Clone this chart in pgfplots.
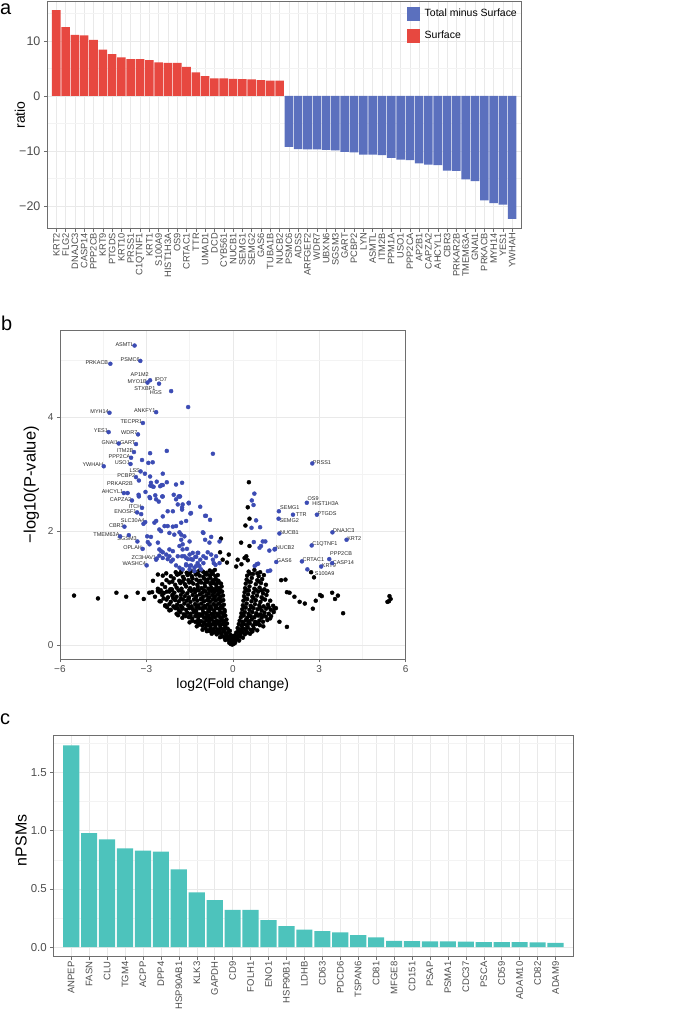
\documentclass[border=0pt]{standalone}
\usepackage{fontspec}
\setmainfont{Liberation Sans}
\usepackage{pgfplots}
\pgfplotsset{compat=1.18}

\definecolor{redC}{RGB}{231,72,64}
\definecolor{blueC}{RGB}{91,112,190}
\definecolor{tealC}{RGB}{77,195,188}
\definecolor{dotblue}{RGB}{60,76,180}
\definecolor{gridC}{RGB}{233,233,233}
\definecolor{gridm}{RGB}{243,243,243}
\definecolor{frameC}{RGB}{110,110,110}
\definecolor{tickC}{RGB}{77,77,77}

\newcommand{\fs}[1]{\fontsize{#1}{#1}\selectfont}

\pgfplotsset{
  ggbase/.style={
    scale only axis, anchor=south west,
    /pgf/number format/assume math mode=true,
    grid=both,
    major grid style={draw=gridC, line width=0.5pt},
    minor grid style={draw=gridm, line width=0.35pt},
    axis line style={draw=frameC, line width=0.6pt},
    tick pos=left, tick align=outside,
    major tick length=3pt, minor tick length=0pt,
    every tick/.style={draw=frameC, line width=0.5pt},
    tick label style={text=tickC},
  },
}
\tikzset{
  lblL/.style={anchor=east, font=\fs{5.5}, inner sep=0.5pt, yshift=1.3pt, text=black!85},
  lblR/.style={anchor=west, font=\fs{5.5}, inner sep=0.5pt, yshift=1.3pt, text=black!85},
  lblC/.style={anchor=center, font=\fs{5.5}, inner sep=0pt, text=black!85},
}

\begin{document}
\begin{tikzpicture}
\path (0pt,0pt) rectangle (685pt,1011pt);

\node[anchor=base west, inner sep=0pt, font=\fs{20}] at (0pt,996pt) {a};
\node[anchor=base west, inner sep=0pt, font=\fs{20}] at (1pt,680pt) {b};
\node[anchor=base west, inner sep=0pt, font=\fs{20}] at (0pt,286pt) {c};

% ---------------- panel a ----------------
\begin{axis}[ggbase,
  at={(47pt,782pt)}, width=475pt, height=228pt,
  xmin=0, xmax=51, ymin=-24.18, ymax=17.27,
  xtick={1,...,50},
  xticklabels={KRT2,FLG2,DNAJC3,CASP14,PPP2CB,KRT9,PTGDS,KRT10,PRSS1,C1QTNF1,KRT1,S100A9,HIST1H3A,OS9,CRTAC1,TTR,UMAD1,DCD,CYB561,NUCB1,SEMG1,SEMG2,GAS6,TUBA1B,NUCB2,PSMC6,ADSS,ARFGEF2,WDR7,UBXN6,SGSM3,GART,PCBP2,LYN,ASMTL,ITM2B,PPM1A,USO1,PPP2CA,AP2B1,CAPZA2,AHCYL1,CBR3,PRKAR2B,TMEM63A,GNAI1,PRKACB,MYH14,YES1,YWHAH},
  xticklabel style={rotate=90, anchor=east, font=\fs{9.3}, inner sep=1pt},
  ytick={-20,-10,0,10}, yticklabels={−20,−10,0,10},
  minor ytick={-15,-5,5,15},
  yticklabel style={font=\fs{12.5}},
  ylabel={ratio},
  every axis y label/.style={at={(axis description cs:-0.057,0.5)}, rotate=90, anchor=center, font=\fs{14}},
  legend style={at={(rel axis cs:0.759,0.975)}, anchor=north west, draw=none, fill=none,
    font=\fs{10.5}, row sep=8.5pt, inner sep=0pt, legend cell align=left,
    /tikz/every odd column/.append style={column sep=3pt}},
]
\addlegendimage{legend image code/.code={\fill[blueC] (0pt,-6.5pt) rectangle (12pt,6.5pt);}}
\addlegendentry{Total minus Surface}
\addlegendimage{legend image code/.code={\fill[redC] (0pt,-6.5pt) rectangle (12pt,6.5pt);}}
\addlegendentry{Surface}
\addplot[ybar, bar width=0.92, bar shift=0pt, fill=redC, draw=none, forget plot] coordinates {
(1,15.6) (2,12.5) (3,11.1) (4,11.0) (5,10.2) (6,8.4) (7,7.6) (8,7.0) (9,6.7) (10,6.7)
(11,6.5) (12,6.1) (13,6.0) (14,6.0) (15,5.3) (16,4.3) (17,3.6) (18,3.2) (19,3.2) (20,3.1)
(21,3.05) (22,3.0) (23,2.85) (24,2.8) (25,2.8)};
\addplot[ybar, bar width=0.92, bar shift=0pt, fill=blueC, draw=none, forget plot] coordinates {
(26,-9.27) (27,-9.7) (28,-9.75) (29,-9.75) (30,-9.8) (31,-9.9) (32,-10.2) (33,-10.3) (34,-10.7) (35,-10.7)
(36,-10.8) (37,-11.3) (38,-11.6) (39,-11.7) (40,-12.3) (41,-12.5) (42,-12.6) (43,-13.6) (44,-13.65) (45,-15.2)
(46,-15.5) (47,-19.0) (48,-19.5) (49,-19.8) (50,-22.4)};
\end{axis}

% ---------------- panel b ----------------
\begin{axis}[ggbase,
  at={(60pt,351pt)}, width=346pt, height=329.3pt,
  xmin=-6, xmax=6, ymin=-0.25, ymax=5.526,
  xtick={-6,-3,0,3,6}, xticklabels={−6,−3,0,3,6},
  minor xtick={-4.5,-1.5,1.5,4.5},
  ytick={0,2,4}, minor ytick={1,3,5},
  tick label style={font=\fs{10}},
  xlabel={log2(Fold change)}, ylabel={−log10(P-value)},
  every axis x label/.style={at={(axis description cs:0.5,-0.079)}, anchor=center, font=\fs{14}},
  every axis y label/.style={at={(axis description cs:-0.083,0.531)}, rotate=90, anchor=center, font=\fs{16.5}},
]
% non-significant proteins
\addplot[only marks, mark=*, mark size=2pt, mark options={draw=black, fill=black}] table[row sep=\\] {
x y\\
-0.12 0.04\\ -0.07 0.02\\ -0.02 0.01\\ 0.03 0.02\\ 0.08 0.04\\ -0.04 0.06\\ 0.01 0.07\\ 0.06 0.08\\
-0.26 0.09\\ -0.19 0.11\\ -0.13 0.08\\ -0.08 0.12\\ -0.02 0.10\\ 0.04 0.12\\ 0.10 0.09\\ 0.16 0.11\\ 0.22 0.08\\
-0.44 0.14\\ -0.36 0.16\\ -0.29 0.13\\ -0.22 0.17\\ -0.15 0.15\\ -0.08 0.18\\ 0.00 0.16\\ 0.07 0.17\\ 0.13 0.14\\ 0.20 0.17\\ 0.27 0.15\\ 0.35 0.13\\
-0.73 0.20\\ -0.64 0.23\\ -0.56 0.19\\ -0.48 0.22\\ -0.40 0.21\\ -0.32 0.24\\ -0.24 0.20\\ -0.16 0.23\\ -0.10 0.25\\ 0.12 0.22\\ 0.19 0.24\\ 0.27 0.20\\ 0.34 0.23\\ 0.42 0.19\\ 0.50 0.22\\ 0.60 0.20\\
-1.05 0.27\\ -0.95 0.30\\ -0.86 0.26\\ -0.77 0.29\\ -0.68 0.28\\ -0.60 0.31\\ -0.51 0.27\\ -0.43 0.30\\ -0.35 0.28\\ -0.26 0.31\\ -0.18 0.29\\ 0.17 0.30\\ 0.25 0.27\\ 0.34 0.30\\ 0.43 0.28\\ 0.52 0.31\\ 0.62 0.27\\ 0.73 0.29\\ 0.85 0.26\\
-1.25 0.33\\ -1.15 0.36\\ -1.05 0.34\\ -0.96 0.37\\ -0.87 0.35\\ -0.78 0.33\\ -0.70 0.37\\ -0.61 0.35\\ -0.52 0.38\\ -0.44 0.34\\ -0.35 0.37\\ -0.27 0.35\\ -0.20 0.38\\ 0.21 0.37\\ 0.30 0.34\\ 0.39 0.37\\ 0.49 0.35\\ 0.59 0.38\\ 0.71 0.34\\ 0.82 0.37\\ 0.94 0.35\\ 1.06 0.33\\
-1.50 0.40\\ -1.40 0.43\\ -1.30 0.41\\ -1.20 0.44\\ -1.10 0.42\\ -1.00 0.40\\ -0.91 0.44\\ -0.82 0.42\\ -0.73 0.45\\ -0.64 0.41\\ -0.55 0.43\\ -0.46 0.41\\ -0.38 0.44\\ -0.30 0.42\\ -0.22 0.45\\ 0.24 0.43\\ 0.34 0.41\\ 0.45 0.44\\ 0.56 0.42\\ 0.66 0.45\\ 0.78 0.41\\ 0.92 0.43\\ 1.05 0.41\\ 1.20 0.44\\
-1.75 0.48\\ -1.63 0.51\\ -1.52 0.49\\ -1.41 0.47\\ -1.30 0.51\\ -1.20 0.49\\ -1.10 0.52\\ -1.00 0.48\\ -0.90 0.50\\ -0.80 0.47\\ -0.71 0.51\\ -0.62 0.49\\ -0.52 0.52\\ -0.43 0.48\\ -0.34 0.50\\ -0.26 0.52\\ 0.28 0.49\\ 0.38 0.52\\ 0.50 0.48\\ 0.62 0.51\\ 0.75 0.49\\ 0.88 0.52\\ 1.00 0.48\\ 1.15 0.50\\ 1.30 0.47\\
-1.95 0.55\\ -1.82 0.58\\ -1.70 0.54\\ -1.58 0.57\\ -1.47 0.55\\ -1.36 0.58\\ -1.25 0.56\\ -1.14 0.54\\ -1.03 0.58\\ -0.93 0.56\\ -0.83 0.59\\ -0.73 0.55\\ -0.63 0.57\\ -0.53 0.55\\ -0.44 0.58\\ -0.35 0.56\\ -0.28 0.59\\ 0.30 0.56\\ 0.42 0.58\\ 0.55 0.55\\ 0.68 0.58\\ 0.82 0.56\\ 0.96 0.54\\ 1.10 0.57\\ 1.25 0.55\\ 1.42 0.58\\
-2.15 0.62\\ -2.00 0.65\\ -1.87 0.61\\ -1.75 0.64\\ -1.62 0.62\\ -1.50 0.65\\ -1.38 0.63\\ -1.27 0.61\\ -1.16 0.65\\ -1.05 0.63\\ -0.95 0.66\\ -0.85 0.62\\ -0.75 0.64\\ -0.65 0.61\\ -0.55 0.65\\ -0.46 0.63\\ -0.37 0.66\\ -0.29 0.62\\ 0.33 0.63\\ 0.45 0.66\\ 0.58 0.62\\ 0.72 0.65\\ 0.86 0.63\\ 1.00 0.61\\ 1.16 0.64\\ 1.32 0.62\\ 1.50 0.65\\
-2.35 0.69\\ -2.20 0.72\\ -2.06 0.68\\ -1.93 0.71\\ -1.80 0.69\\ -1.68 0.73\\ -1.55 0.70\\ -1.43 0.68\\ -1.31 0.72\\ -1.20 0.70\\ -1.09 0.73\\ -0.98 0.69\\ -0.87 0.71\\ -0.77 0.68\\ -0.67 0.72\\ -0.57 0.70\\ -0.48 0.73\\ -0.39 0.69\\ -0.31 0.71\\ 0.35 0.70\\ 0.48 0.73\\ 0.62 0.69\\ 0.77 0.72\\ 0.92 0.70\\ 1.07 0.68\\ 1.22 0.71\\ 1.40 0.69\\
-2.50 0.77\\ -2.30 0.80\\ -2.15 0.76\\ -2.00 0.79\\ -1.87 0.77\\ -1.73 0.80\\ -1.60 0.78\\ -1.47 0.76\\ -1.35 0.80\\ -1.23 0.78\\ -1.11 0.81\\ -1.00 0.77\\ -0.89 0.79\\ -0.79 0.76\\ -0.69 0.80\\ -0.59 0.78\\ -0.50 0.81\\ -0.41 0.77\\ -0.33 0.79\\ 0.37 0.78\\ 0.50 0.81\\ 0.65 0.77\\ 0.80 0.79\\ 0.96 0.76\\ 1.12 0.80\\ 1.30 0.78\\
-2.70 0.85\\ -2.45 0.88\\ -2.25 0.84\\ -2.10 0.87\\ -1.95 0.85\\ -1.80 0.88\\ -1.66 0.86\\ -1.52 0.84\\ -1.39 0.88\\ -1.26 0.86\\ -1.14 0.89\\ -1.03 0.85\\ -0.92 0.87\\ -0.81 0.84\\ -0.71 0.88\\ -0.61 0.86\\ -0.52 0.89\\ -0.43 0.85\\ -0.34 0.87\\ 0.39 0.86\\ 0.53 0.89\\ 0.68 0.85\\ 0.84 0.87\\ 1.00 0.84\\ 1.17 0.88\\
-2.90 0.92\\ -2.60 0.95\\ -2.40 0.91\\ -2.20 0.94\\ -2.03 0.92\\ -1.88 0.96\\ -1.73 0.93\\ -1.58 0.91\\ -1.44 0.95\\ -1.31 0.93\\ -1.18 0.96\\ -1.06 0.92\\ -0.95 0.94\\ -0.84 0.91\\ -0.74 0.95\\ -0.64 0.93\\ -0.55 0.96\\ -0.46 0.92\\ -0.37 0.94\\ 0.41 0.93\\ 0.56 0.96\\ 0.72 0.92\\ 0.88 0.94\\ 1.05 0.91\\ 1.20 0.95\\
-2.60 0.99\\ -2.35 1.02\\ -2.12 0.98\\ -1.95 1.01\\ -1.78 0.99\\ -1.62 1.03\\ -1.48 1.00\\ -1.34 0.98\\ -1.21 1.02\\ -1.08 1.00\\ -0.96 1.03\\ -0.85 0.99\\ -0.75 1.01\\ -0.65 0.98\\ -0.56 1.02\\ -0.47 1.00\\ -0.39 1.03\\ 0.43 1.00\\ 0.58 1.03\\ 0.75 0.99\\ 0.93 1.01\\ 1.10 0.98\\
-2.45 1.07\\ -2.20 1.10\\ -2.00 1.06\\ -1.82 1.09\\ -1.66 1.07\\ -1.51 1.10\\ -1.37 1.08\\ -1.23 1.06\\ -1.10 1.10\\ -0.98 1.08\\ -0.87 1.11\\ -0.77 1.07\\ -0.67 1.09\\ -0.58 1.06\\ -0.49 1.10\\ -0.41 1.08\\ 0.45 1.08\\ 0.62 1.11\\ 0.80 1.07\\ 0.98 1.09\\ 1.15 1.06\\
-2.30 1.14\\ -2.05 1.17\\ -1.86 1.13\\ -1.69 1.16\\ -1.54 1.14\\ -1.40 1.17\\ -1.26 1.15\\ -1.13 1.13\\ -1.00 1.17\\ -0.88 1.15\\ -0.78 1.18\\ -0.68 1.14\\ -0.59 1.16\\ -0.50 1.13\\ 0.48 1.15\\ 0.66 1.18\\ 0.85 1.14\\ 1.02 1.16\\
-2.15 1.21\\ -1.92 1.24\\ -1.73 1.20\\ -1.57 1.23\\ -1.42 1.21\\ -1.28 1.24\\ -1.15 1.22\\ -1.02 1.20\\ -0.90 1.24\\ -0.79 1.22\\ -0.69 1.25\\ -0.60 1.21\\ -0.52 1.23\\ 0.50 1.22\\ 0.70 1.25\\ 0.90 1.21\\ 1.08 1.23\\
-1.98 1.28\\ -1.78 1.31\\ -1.60 1.27\\ -1.45 1.30\\ -1.30 1.28\\ -1.16 1.31\\ -1.03 1.29\\ -0.91 1.27\\ -0.80 1.31\\ -0.70 1.29\\ -0.62 1.32\\ 0.55 1.29\\ 0.75 1.32\\ 0.95 1.28\\
-0.90 0.245\\ -0.81 0.25\\ -0.72 0.24\\ -0.55 0.25\\ -0.47 0.245\\ -0.30 0.255\\ 0.30 0.25\\ 0.47 0.245\\ 0.68 0.24\\
-1.20 0.385\\ -1.00 0.39\\ -0.82 0.38\\ -0.65 0.39\\ -0.48 0.385\\ -0.31 0.39\\ 0.35 0.385\\ 0.54 0.39\\ 0.76 0.38\\ 0.88 0.39\\
-1.90 0.525\\ -1.69 0.53\\ -1.47 0.52\\ -1.25 0.53\\ -1.05 0.525\\ -0.85 0.52\\ -0.67 0.53\\ -0.48 0.525\\ -0.30 0.53\\ 0.33 0.525\\ 0.56 0.52\\ 0.81 0.53\\ 1.07 0.52\\
-2.28 0.665\\ -2.00 0.67\\ -1.75 0.66\\ -1.50 0.665\\ -1.26 0.67\\ -1.03 0.66\\ -0.80 0.665\\ -0.60 0.67\\ -0.42 0.66\\ 0.40 0.665\\ 0.65 0.67\\ 0.95 0.66\\ 1.25 0.665\\
-2.40 0.82\\ -2.07 0.825\\ -1.80 0.815\\ -1.53 0.82\\ -1.29 0.825\\ -1.06 0.815\\ -0.84 0.82\\ -0.64 0.825\\ -0.46 0.815\\ 0.44 0.82\\ 0.72 0.825\\ 1.04 0.815\\
-2.50 0.965\\ -2.12 0.97\\ -1.81 0.96\\ -1.51 0.965\\ -1.24 0.97\\ -1.00 0.96\\ -0.80 0.965\\ -0.60 0.97\\ -0.43 0.96\\ 0.50 0.965\\ 0.80 0.97\\ 1.00 0.96\\
-2.10 1.115\\ -1.74 1.12\\ -1.44 1.11\\ -1.17 1.115\\ -0.93 1.12\\ -0.72 1.11\\ -0.54 1.115\\ 0.56 1.115\\ 0.90 1.12\\
-1.85 1.255\\ -1.50 1.26\\ -1.22 1.25\\ -0.96 1.255\\ -0.74 1.26\\ 0.60 1.255\\ 0.85 1.26\\
-5.51 0.87\\ -4.68 0.82\\ -4.04 0.92\\ -3.70 0.85\\ -3.30 0.92\\ -3.09 0.81\\ -2.80 0.93\\ -2.54 0.77\\ -2.34 0.70\\ -2.20 0.61\\ -1.91 0.65\\ -2.55 0.93\\ -2.42 0.92\\ -2.29 0.94\\ -2.17 0.98\\ -2.08 0.89\\ -2.03 0.81\\ -2.77 1.13\\ -2.60 1.24\\ -2.43 1.22\\ -2.31 1.26\\ -1.94 1.24\\ -1.79 1.28\\
1.97 0.92\\ 2.14 0.85\\ 2.32 0.76\\ 2.50 0.73\\ 2.78 0.64\\ 2.88 0.78\\ 3.03 0.88\\ 3.09 0.86\\ 3.45 0.92\\ 3.65 0.87\\ 3.55 0.81\\ 3.83 0.56\\ 5.44 0.86\\ 5.48 0.81\\ 5.37 0.76\\ 5.42 0.77\\ 1.68 1.14\\ 1.83 1.15\\ 1.88 0.93\\ 1.88 0.32\\ 1.62 0.41\\ 1.45 0.64\\ 1.33 0.51\\ 2.72 1.28\\ 2.82 1.19\\
0.56 2.86\\ 0.52 2.42\\ 0.58 2.22\\ 0.44 2.10\\ 0.29 1.80\\ 0.58 1.74\\ -0.41 1.87\\ -0.14 1.59\\ -0.44 1.63\\ 0.17 1.50\\ 0.41 1.53\\ 0.47 1.56\\ 0.52 1.49\\ -0.35 1.50\\ 0.30 1.42\\ 0.12 1.38\\ -0.20 1.45\\
};
% significant proteins
\addplot[only marks, mark=*, mark size=2pt, mark options={draw=dotblue, fill=dotblue}] table[row sep=\\] {
x y\\
-3.41 5.26\\ -3.21 4.99\\ -4.25 4.94\\ -2.87 4.65\\ -2.96 4.61\\ -2.56 4.59\\ -2.14 4.46\\ -1.55 4.18\\ -2.66 4.09\\ -4.28 4.08\\
-3.12 3.90\\ -4.31 3.74\\ -3.29 3.70\\ -3.96 3.54\\ -3.36 3.53\\ -3.43 3.39\\ -2.87 3.37\\ -2.29 3.41\\ -0.69 3.36\\ -3.53 3.29\\
-3.15 3.25\\ -3.55 3.18\\ -2.93 3.20\\ -4.48 3.14\\ -3.20 3.05\\ -3.05 3.01\\ -2.87 2.96\\ -2.43 3.01\\ -3.36 2.95\\ -3.26 2.89\\
-2.84 2.85\\ -2.64 2.87\\ -2.47 2.81\\ -1.97 2.82\\ -3.78 2.67\\ -3.65 2.67\\ -3.27 2.64\\ -3.03 2.69\\ -2.87 2.58\\ -2.66 2.56\\
-2.57 2.52\\ -2.05 2.64\\ -1.97 2.56\\ -1.91 2.47\\ -3.50 2.54\\ -3.15 2.41\\ -3.32 2.33\\ -3.18 2.30\\ -3.04 2.16\\ -3.10 2.13\\
-3.76 2.08\\ -3.91 1.91\\ -3.61 1.93\\ -3.31 1.82\\ -3.13 1.69\\ -2.64 1.52\\ -2.99 1.40\\ -3.26 2.61\\ -2.86 2.80\\ -2.75 2.78\\
-2.52 2.79\\ -2.43 2.81\\ -2.29 2.86\\ -1.76 2.85\\ -2.89 2.60\\ -2.69 2.63\\ -2.43 2.61\\ -1.85 2.61\\ -1.53 2.49\\ -1.13 2.43\\
-1.76 2.42\\ -2.08 2.35\\ -2.43 2.26\\ -2.26 2.35\\ -1.45 2.32\\ -0.93 2.27\\ -0.79 2.20\\ -2.72 2.15\\ -2.66 2.18\\ -2.37 2.09\\
-2.26 2.09\\ -2.08 2.08\\ -1.97 2.09\\ -1.85 1.98\\ -2.55 2.03\\ -2.49 2.00\\ -2.20 1.97\\ -2.03 1.94\\ -1.79 1.94\\ -1.68 1.91\\
-1.02 1.97\\ -0.46 1.82\\ -2.97 1.91\\ -2.84 1.90\\ -2.60 1.80\\ -2.95 1.81\\ -2.89 1.77\\ -2.55 1.68\\ -2.49 1.65\\ -2.43 1.63\\
-2.20 1.68\\ -2.08 1.65\\ -1.85 1.74\\ -1.74 1.68\\ -1.59 1.69\\ -2.55 1.57\\ -2.43 1.53\\ -2.20 1.56\\ -2.08 1.50\\ -1.91 1.56\\
-1.76 1.56\\ -1.62 1.53\\ -1.50 1.59\\ -1.45 1.51\\ -1.27 1.55\\ -1.20 1.62\\ -1.13 1.50\\ -1.02 1.44\\ -0.87 1.63\\ -0.75 1.59\\
-0.69 1.50\\ -0.58 1.56\\ -0.60 1.41\\ -0.46 1.44\\ -1.16 1.39\\ -1.22 1.44\\ -1.33 1.36\\ -1.50 1.39\\ -1.62 1.42\\ -1.85 1.36\\
-1.97 1.40\\ -2.14 1.47\\ -2.26 1.51\\ -2.31 1.59\\ -2.66 1.50\\ -1.83 2.61\\ -1.74 2.47\\ -1.53 2.50\\ -1.76 2.38\\ -1.47 2.31\\
-0.96 2.27\\ -1.79 2.15\\ -1.62 2.18\\ -1.04 1.98\\ -0.96 1.85\\ -0.75 1.90\\ -0.81 1.80\\ -1.50 1.82\\ -1.79 1.85\\ -1.74 1.77\\
-1.39 1.62\\ -1.22 1.62\\ -1.02 1.56\\ -0.93 1.53\\ -0.66 1.44\\ -1.68 1.56\\ -1.56 1.51\\ -1.39 1.50\\ -1.30 1.55\\ -1.62 1.40\\
-1.45 1.40\\ -1.27 1.39\\ -1.10 1.33\\ -1.74 1.33\\ -1.50 1.33\\ -1.33 1.30\\ -2.78 3.21\\ -2.80 2.79\\ -2.45 2.61\\ -1.88 2.61\\
0.75 2.66\\ 0.66 2.54\\ 0.72 2.46\\ 0.81 2.19\\ 0.95 2.07\\ 0.65 2.06\\ 0.73 1.81\\ 1.04 1.82\\ 1.13 1.82\\ 0.98 1.74\\
0.93 1.71\\ 1.27 1.66\\ 1.45 1.68\\ 0.76 1.39\\ 0.83 1.42\\ 0.88 1.43\\ 1.22 1.30\\ 1.30 1.31\\
2.76 3.19\\ 2.57 2.50\\ 1.60 2.35\\ 2.09 2.29\\ 2.92 2.29\\ 1.59 2.22\\ 1.62 1.96\\ 3.46 1.98\\ 3.95 1.85\\ 2.74 1.75\\
1.47 1.69\\ 1.51 1.46\\ 2.40 1.47\\ 3.35 1.51\\ 3.45 1.44\\ 3.07 1.38\\ 2.59 1.33\\
};
% gene labels
\node[lblL] at (axis cs:-3.41,5.26) {ASMTL};
\node[lblL] at (axis cs:-3.21,4.99) {PSMC6};
\node[lblL, xshift=-1.5pt] at (axis cs:-4.25,4.94) {PRKACB};
\node[lblC] at (axis cs:-3.23,4.75) {AP1M2};
\node[lblL] at (axis cs:-2.96,4.61) {MYO1B};
\node[lblC] at (axis cs:-2.50,4.66) {IPO7};
\node[lblC] at (axis cs:-3.05,4.51) {STXBP1};
\node[lblC] at (axis cs:-2.67,4.44) {HGS};
\node[lblL] at (axis cs:-2.66,4.09) {ANKFY1};
\node[lblL] at (axis cs:-4.28,4.08) {MYH14};
\node[lblL] at (axis cs:-3.12,3.90) {TECPR1};
\node[lblL] at (axis cs:-4.31,3.74) {YES1};
\node[lblL] at (axis cs:-3.29,3.70) {WDR7};
\node[lblL] at (axis cs:-3.96,3.54) {GNAI1};
\node[lblL] at (axis cs:-3.36,3.53) {GART};
\node[lblL] at (axis cs:-3.43,3.39) {ITM2B};
\node[lblL] at (axis cs:-3.53,3.29) {PPP2CA};
\node[lblL] at (axis cs:-3.55,3.18) {USO1};
\node[lblL] at (axis cs:-4.48,3.14) {YWHAH};
\node[lblL] at (axis cs:-3.20,3.05) {LSS};
\node[lblL] at (axis cs:-3.36,2.95) {PCBP2};
\node[lblL, yshift=-1.3pt] at (axis cs:-3.45,2.83) {PRKAR2B};
\node[lblL] at (axis cs:-3.78,2.67) {AHCYL1};
\node[lblL] at (axis cs:-3.50,2.54) {CAPZA2};
\node[lblL] at (axis cs:-3.15,2.41) {ITCH};
\node[lblL] at (axis cs:-3.32,2.33) {ENOSF1};
\node[lblL] at (axis cs:-3.04,2.16) {SLC30A4};
\node[lblL] at (axis cs:-3.76,2.08) {CBR3};
\node[lblL] at (axis cs:-3.91,1.91) {TMEM63A};
\node[lblL] at (axis cs:-3.31,1.84) {SGSM3};
\node[lblL] at (axis cs:-3.13,1.69) {OPLAH};
\node[lblL] at (axis cs:-2.64,1.52) {ZC3HAV1};
\node[lblL] at (axis cs:-2.99,1.40) {WASHC4};
\node[lblR] at (axis cs:2.76,3.19) {PRSS1};
\node[lblC] at (axis cs:2.79,2.58) {OS9};
\node[lblC] at (axis cs:3.22,2.48) {HIST1H3A};
\node[lblC] at (axis cs:1.98,2.41) {SEMG1};
\node[lblC] at (axis cs:2.38,2.285) {TTR};
\node[lblC] at (axis cs:1.96,2.185) {SEMG2};
\node[lblR] at (axis cs:2.92,2.29) {PTGDS};
\node[lblR] at (axis cs:1.62,1.96) {NUCB1};
\node[lblR] at (axis cs:3.46,1.98) {DNAJC3};
\node[lblR] at (axis cs:3.95,1.85) {KRT2};
\node[lblR] at (axis cs:2.74,1.75) {C1QTNF1};
\node[lblR] at (axis cs:1.47,1.69) {NUCB2};
\node[lblR] at (axis cs:1.51,1.46) {GAS6};
\node[lblR] at (axis cs:2.40,1.47) {CRTAC1};
\node[lblC] at (axis cs:3.76,1.61) {PPP2CB};
\node[lblR, yshift=-0.5pt] at (axis cs:3.45,1.44) {CASP14};
\node[lblR, yshift=-0.8pt] at (axis cs:3.07,1.38) {KRT9};
\node[lblC] at (axis cs:3.19,1.25) {S100A9};
\end{axis}

% ---------------- panel c ----------------
\begin{axis}[ggbase,
  at={(53.3pt,53.3pt)}, width=520.7pt, height=221.7pt,
  xmin=0, xmax=29, ymin=-0.083, ymax=1.817,
  xtick={1,...,28},
  xticklabels={ANPEP,FASN,CLU,TGM4,ACPP,DPP4,HSP90AB1,KLK3,GAPDH,CD9,FOLH1,ENO1,HSP90B1,LDHB,CD63,PDCD6,TSPAN6,CD81,MFGE8,CD151,PSAP,PSMA1,CDC37,PSCA,CD59,ADAM10,CD82,ADAM9},
  xticklabel style={rotate=90, anchor=east, font=\fs{9.5}, inner sep=1.5pt},
  ytick={0,0.5,1,1.5}, yticklabels={0.0,0.5,1.0,1.5},
  minor ytick={0.25,0.75,1.25,1.75},
  yticklabel style={font=\fs{11.5}},
  ylabel={nPSMs},
  every axis y label/.style={at={(axis description cs:-0.062,0.526)}, rotate=90, anchor=center, font=\fs{16}},
]
\addplot[ybar, bar width=0.9, bar shift=0pt, fill=tealC, draw=none] coordinates {
(1,1.731) (2,0.977) (3,0.925) (4,0.848) (5,0.828) (6,0.820) (7,0.666) (8,0.469) (9,0.403) (10,0.320)
(11,0.320) (12,0.231) (13,0.180) (14,0.149) (15,0.137) (16,0.126) (17,0.103) (18,0.083) (19,0.054) (20,0.051)
(21,0.050) (22,0.050) (23,0.048) (24,0.043) (25,0.043) (26,0.043) (27,0.040) (28,0.037)};
\end{axis}
\end{tikzpicture}
\end{document}
